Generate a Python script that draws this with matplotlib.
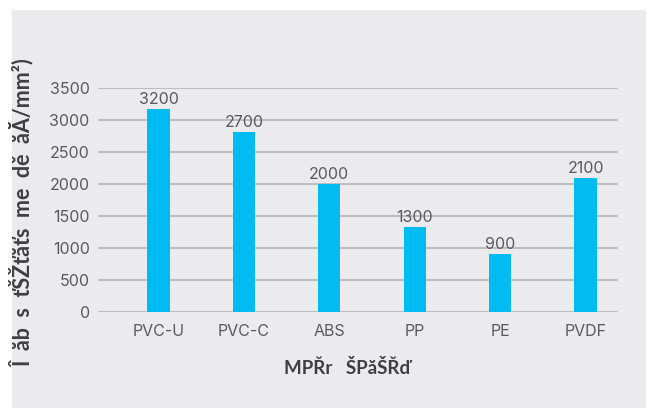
import matplotlib
matplotlib.use("Agg")
import matplotlib.pyplot as plt
from matplotlib.patches import Rectangle

categories = ["PVC-U", "PVC-C", "ABS", "PP", "PE", "PVDF"]
bar_values = [3170, 2810, 2000, 1320, 900, 2090]
value_labels = ["3200", "2700", "2000", "1300", "900", "2100"]
yticks = [0, 500, 1000, 1500, 2000, 2500, 3000, 3500]
ylabel_text = "Î  ăb  s  ťŠŽťăťs  me  dě  ăĂ/mm²)"
xlabel_text = "MPŘr   ŠPăŠŘď"

BG = "#EBEBED"
BAR = "#00BCF2"
GRID = "#B5B5B5"
TXT = "#5A5A5A"
LBL = "#3F3F3F"

plt.rcParams['font.family'] = ['Inter', 'DejaVu Sans']

fig = plt.figure(figsize=(6.48, 4.08), dpi=100)
fig.patch.set_facecolor("white")
fig.patches.append(Rectangle((12/648, 0), (646-12)/648, (408-10)/408,
                             transform=fig.transFigure, facecolor=BG,
                             edgecolor="none", zorder=-10))

ax = fig.add_axes([98/648, (408-311.7)/408, 520/648, (311.7-88.3)/408])
ax.set_facecolor("none")
x = list(range(len(categories)))
ax.bar(x, bar_values, width=0.261, color=BAR, zorder=3)
for xi, v, lab in zip(x, bar_values, value_labels):
    ax.annotate(lab, (xi, v), xytext=(0, 3.8), textcoords="offset points",
                ha="center", va="baseline", fontsize=11.5, color=TXT)

ax.set_xlim(-0.708, 5.38)
ax.set_ylim(0, 3500)
ax.set_yticks(yticks)
ax.set_yticklabels([str(t) for t in yticks])
ax.set_xticks(x)
ax.set_xticklabels(categories)
ax.yaxis.grid(True, color=GRID, linewidth=1.2, zorder=0)
ax.set_axisbelow(True)
for s in ax.spines.values():
    s.set_visible(False)
ax.tick_params(axis="both", length=0, labelsize=11.5, labelcolor=TXT)
ax.tick_params(axis="y", pad=6)
ax.tick_params(axis="x", pad=9)

fig.text(22/648, 1 - 213/408, ylabel_text, rotation=90, ha="center", va="center",
         fontsize=15.5, fontweight="bold", color=LBL, family=['Lato', 'DejaVu Sans'])
fig.text(347/648, 1 - 368/408, xlabel_text, ha="center", va="center",
         fontsize=13.5, fontweight="bold", color=LBL, family=['Lato', 'DejaVu Sans'])

fig.savefig("out.png", dpi=100, facecolor=fig.get_facecolor())
